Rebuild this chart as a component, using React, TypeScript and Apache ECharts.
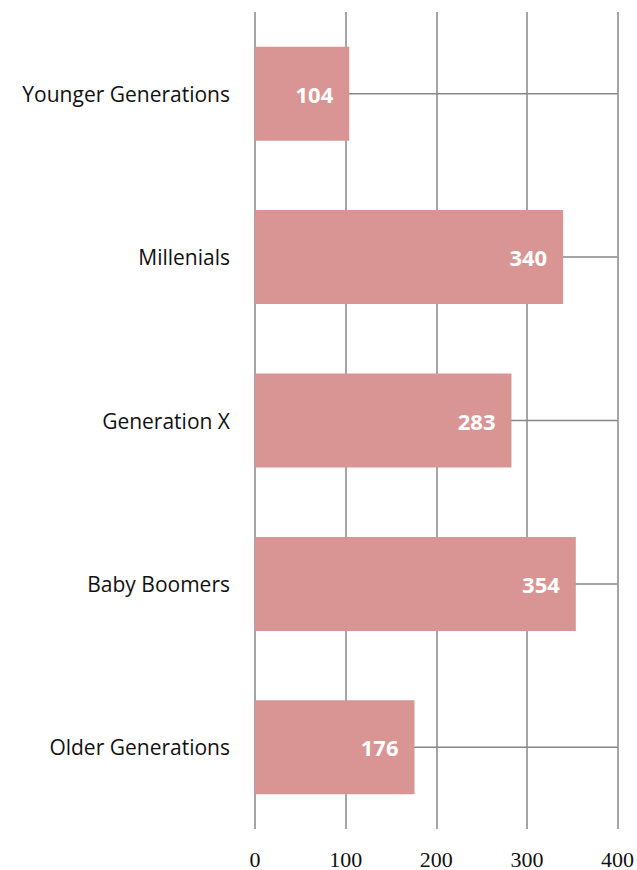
import React, { useEffect, useRef } from "react";
import * as echarts from "echarts";

const categories = ["Older Generations", "Baby Boomers", "Generation X", "Millenials", "Younger Generations"];
const values = [176, 354, 283, 340, 104];
const xMin = 0;
const xMax = 400;
const xInterval = 100;

const GRID_COLOR = "#878787";
const BAR_COLOR = "#D99594";

export default function App() {
  const ref = useRef<HTMLDivElement>(null);
  useEffect(() => {
    if (!ref.current) return;
    const chart = echarts.init(ref.current, null, { renderer: "svg" });
    chart.setOption({
      animation: false,
      grid: { left: 255, right: 19, top: 12, bottom: 37, containLabel: false },
      xAxis: {
        type: "value",
        min: xMin,
        max: xMax,
        interval: xInterval,
        axisLine: { show: false },
        axisTick: { show: false },
        axisLabel: {
          fontFamily: "Liberation Serif",
          fontSize: 22,
          color: "#111",
          margin: 19,
        },
        splitLine: { show: true, lineStyle: { color: GRID_COLOR, width: 1.5 } },
      },
      yAxis: {
        type: "category",
        data: categories,
        axisLine: { show: false },
        axisTick: { show: false },
        splitLine: { show: false },
        axisLabel: {
          fontFamily: "Open Sans",
          fontSize: 21,
          color: "#111",
          margin: 25,
        },
      },
      series: [
        {
          type: "custom",
          z: 1,
          silent: true,
          data: categories.map((c, i) => [i]),
          renderItem: (params: any, api: any) => {
            const idx = api.value(0);
            const p0 = api.coord([xMin, idx]);
            const p1 = api.coord([xMax, idx]);
            return {
              type: "line",
              shape: { x1: p0[0], y1: p0[1], x2: p1[0], y2: p1[1] },
              style: { stroke: GRID_COLOR, lineWidth: 1.5 },
            };
          },
        },
        {
          type: "bar",
          data: values,
          z: 2,
          barWidth: 94,
          itemStyle: { color: BAR_COLOR },
          label: {
            show: true,
            position: "insideRight",
            distance: 16,
            color: "#fff",
            fontFamily: "Open Sans",
            fontWeight: "bold",
            fontSize: 22,
          },
        },
      ],
    });
    return () => chart.dispose();
  }, []);
  return (
    <div
      ref={ref}
      style={{ position: "fixed", left: 0, top: 0, width: 637, height: 870, background: "#fff" }}
    />
  );
}
